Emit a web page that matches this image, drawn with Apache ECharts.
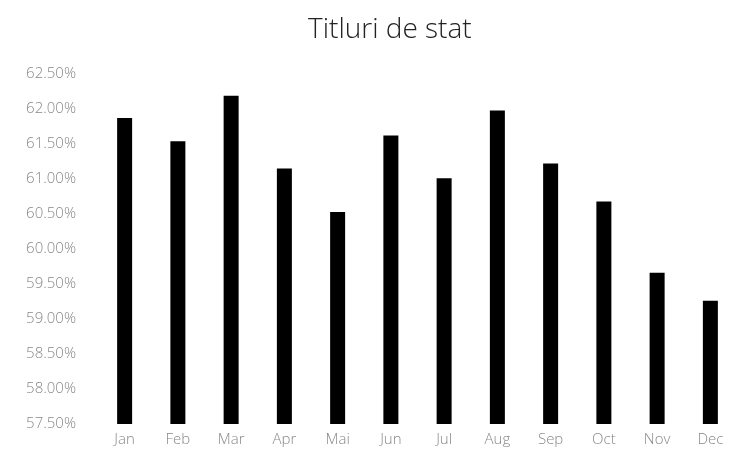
<!DOCTYPE html>
<html><head><meta charset="utf-8">
<script src="https://cdn.jsdelivr.net/npm/echarts@6/dist/echarts.min.js"></script>
<style>html,body{margin:0;padding:0;background:#fff}#c{width:737px;height:462px}</style>
</head><body><div id="c"></div>
<script>
var categories = ['Jan','Feb','Mar','Apr','Mai','Jun','Jul','Aug','Sep','Oct','Nov','Dec'];
var values = [61.87, 61.54, 62.19, 61.15, 60.53, 61.62, 61.01, 61.98, 61.22, 60.68, 59.66, 59.26];
var chartTitle = 'Titluri de stat';
var yMin = 57.5, yMax = 62.5, yStep = 0.5;

var chart = echarts.init(document.getElementById('c'));
chart.setOption({
  animation: false,
  backgroundColor: '#fff',
  title: {
    text: chartTitle,
    left: 303, top: 11,
    textStyle: { fontFamily: 'Open Sans', fontWeight: 300, fontSize: 28, color: '#222' }
  },
  grid: { left: 98, right: -9, top: 74, bottom: 38, containLabel: false },
  xAxis: {
    type: 'category', data: categories,
    axisLine: { show: false }, axisTick: { show: false },
    axisLabel: { margin: 8, fontFamily: 'Open Sans', fontWeight: 300, fontSize: 15, color: '#888' }
  },
  yAxis: {
    type: 'value', min: yMin, max: yMax, interval: yStep,
    splitLine: { show: false }, axisLine: { show: false }, axisTick: { show: false },
    axisLabel: {
      margin: 22, fontFamily: 'Open Sans', fontWeight: 300, fontSize: 15, color: '#888',
      formatter: function (v) { return v.toFixed(2) + '%'; }
    }
  },
  series: [{
    type: 'bar', data: values, barWidth: 15,
    itemStyle: { color: '#000' }
  }]
});
</script></body></html>
